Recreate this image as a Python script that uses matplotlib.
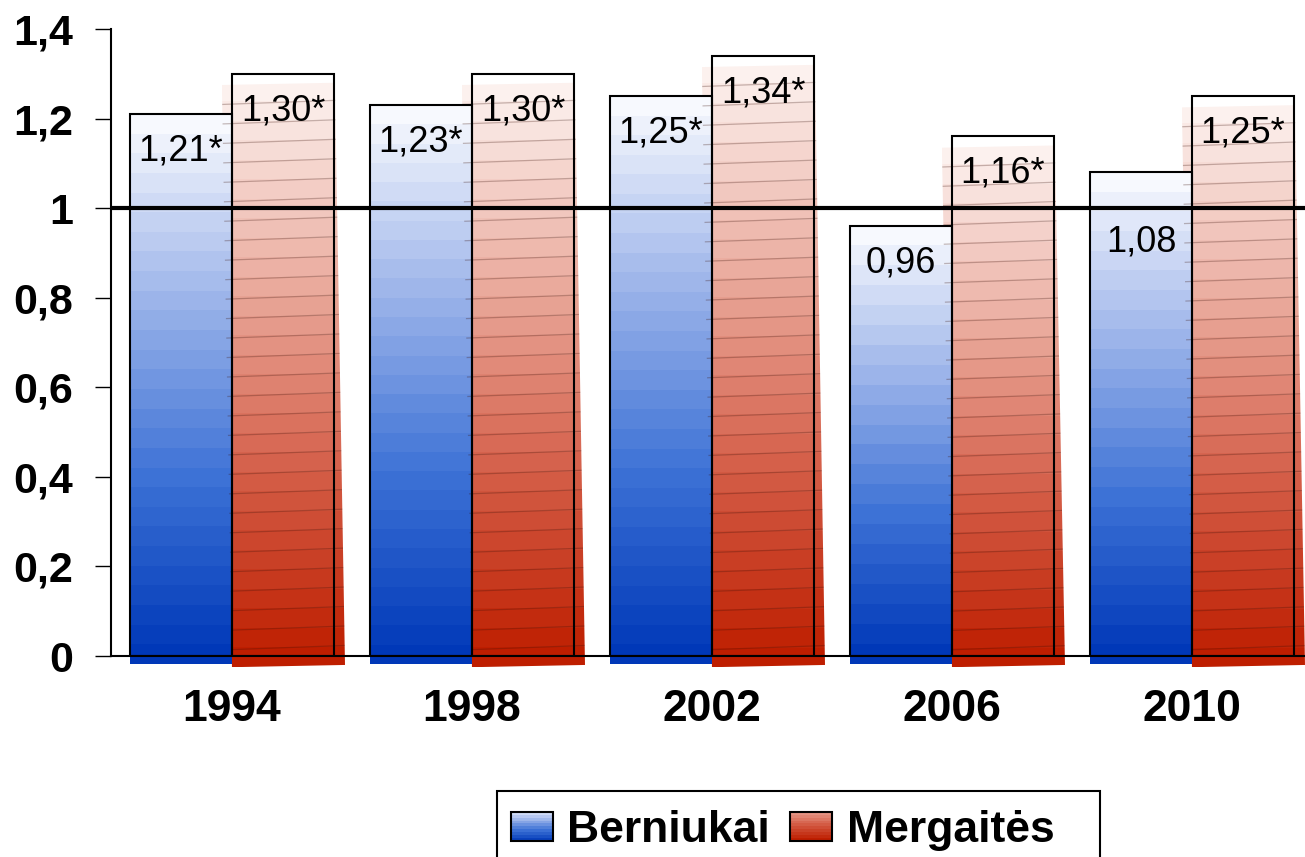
import numpy as np
import matplotlib
matplotlib.use("Agg")
import matplotlib.pyplot as plt
from matplotlib.colors import LinearSegmentedColormap
from matplotlib.patches import Polygon, Rectangle, Patch
from matplotlib.legend_handler import HandlerBase

plt.rcParams["font.family"] = ["Liberation Sans", "DejaVu Sans"]

# ── Data ──────────────────────────────────────────────────────────────────────
YEARS      = ["1994", "1998", "2002", "2006", "2010"]
BOYS       = [1.21, 1.23, 1.25, 0.96, 1.08]
GIRLS      = [1.30, 1.30, 1.34, 1.16, 1.25]
BOYS_TXT   = ["1,21*", "1,23*", "1,25*", "0,96", "1,08"]
GIRLS_TXT  = ["1,30*", "1,30*", "1,34*", "1,16*", "1,25*"]
YTICKS     = [0, 0.2, 0.4, 0.6, 0.8, 1.0, 1.2, 1.4]
YTICK_TXT  = ["0", "0,2", "0,4", "0,6", "0,8", "1", "1,2", "1,4"]
LEGEND_TXT = ["Berniukai", "Mergaitės"]

# ── Style ─────────────────────────────────────────────────────────────────────
BLUE = LinearSegmentedColormap.from_list(
    "blue", ["#0038B8", "#3D72D6", "#9CB4EA", "#F7F9FE"])
RED = LinearSegmentedColormap.from_list(
    "red", ["#BE1E00", "#D5604A", "#EBADA0", "#FCF1EE"])
BAR_W = 0.425
BAND  = 0.0435   # height of one colour band


def gradient_fill(ax, poly, bottom, top, cmap, streaks=False):
    """Banded vertical gradient clipped to a polygon (data coords)."""
    xs = [p[0] for p in poly]
    n = max(int(round((top - bottom) / BAND)), 2)
    img = cmap(np.linspace(1, 0, n))[:, None, :3]
    clip = Polygon(poly, closed=True, transform=ax.transData)
    im = ax.imshow(img, extent=[min(xs), max(xs), bottom, top],
                   aspect="auto", interpolation="nearest", zorder=1)
    im.set_clip_box(ax.figure.bbox)      # let the fill poke below the axis
    im.set_clip_path(clip)
    if streaks:
        tilt = 0.005
        for k in range(1, n):
            y = bottom + k * (top - bottom) / n
            ln, = ax.plot([min(xs), max(xs)], [y - tilt, y + tilt],
                          color="#3a1008", alpha=0.28, lw=0.9, zorder=1.5)
            ln.set_clip_box(ax.figure.bbox)
            ln.set_clip_path(clip)


class GradientHandler(HandlerBase):
    def __init__(self, cmap, lo, hi):
        super().__init__()
        self.cmap = cmap
        self.lo, self.hi = lo, hi

    def create_artists(self, legend, orig_handle, xdescent, ydescent,
                       width, height, fontsize, trans):
        x0, y0 = -xdescent, -ydescent
        n = 10
        arts = []
        for k in range(n):
            c = self.cmap(self.lo + (self.hi - self.lo) * k / (n - 1))
            arts.append(Rectangle((x0, y0 + height * k / n), width,
                                  height / n * 1.05, facecolor=c,
                                  edgecolor="none", transform=trans))
        arts.append(Rectangle((x0, y0), width, height, fill=False,
                              edgecolor="black", lw=1.5, transform=trans))
        return arts


fig = plt.figure(figsize=(13.05, 8.57), dpi=100)
ax = fig.add_axes([111 / 1305, 201 / 857, 1194 / 1305, 627 / 857])

x = np.arange(len(YEARS))

# red bars: slightly rotated fill, drawn first so blue sits on top
for xi, v in zip(x, GIRLS):
    l, r = xi, xi + BAR_W + 0.046
    poly = [(l, -0.025), (r, -0.02), (r - 0.042, v - 0.02), (l - 0.042, v - 0.025)]
    gradient_fill(ax, poly, -0.025, v - 0.02, RED, streaks=True)

for xi, v in zip(x, BOYS):
    l, r = xi - BAR_W, xi
    poly = [(l, -0.018), (r, -0.018), (r, v), (l, v)]
    gradient_fill(ax, poly, -0.018, v, BLUE)

ax.bar(x - BAR_W / 2, BOYS, width=BAR_W, fill=False,
       edgecolor="black", lw=1.5, zorder=4)
ax.bar(x + BAR_W / 2, GIRLS, width=BAR_W, fill=False,
       edgecolor="black", lw=1.5, zorder=4)

ax.axhline(1, color="black", lw=3, zorder=5)


def label_y(v):
    y = v - 0.082
    if abs(y - 1) < 0.05:
        y = 1 - 0.075
    return y


for xi, v, t in zip(x, BOYS, BOYS_TXT):
    ax.text(xi - BAR_W / 2, label_y(v), t, ha="center", va="center",
            fontsize=26, zorder=6)
for xi, v, t in zip(x, GIRLS, GIRLS_TXT):
    ax.text(xi + BAR_W / 2, label_y(v), t, ha="center", va="center",
            fontsize=26, zorder=6)

ax.set_xlim(-0.504, 4.471)
ax.set_ylim(0, 1.4)
ax.set_yticks(YTICKS)
ax.set_yticklabels(YTICK_TXT, fontsize=31, fontweight="bold")
ax.set_xticks(x)
ax.set_xticklabels(YEARS, fontsize=32, fontweight="bold")
ax.tick_params(axis="y", length=11.5, width=1, pad=16)
ax.tick_params(axis="x", length=0, pad=24)
for s in ["top", "right"]:
    ax.spines[s].set_visible(False)
for s in ["left", "bottom"]:
    ax.spines[s].set_linewidth(1.5)
    ax.spines[s].set_zorder(3)

# legend: entries without frame, box drawn separately (cut by figure edge)
h_boys = Patch(label=LEGEND_TXT[0])
h_girls = Patch(label=LEGEND_TXT[1])
leg = fig.legend(handles=[h_boys, h_girls], labels=LEGEND_TXT,
                 handler_map={h_boys: GradientHandler(BLUE, 0.05, 0.85),
                              h_girls: GradientHandler(RED, 0.0, 0.55)},
                 loc="upper left", bbox_to_anchor=(511 / 1305, 1 - 810 / 857),
                 ncol=2, frameon=False,
                 prop={"weight": "bold", "size": 32},
                 handlelength=0.95, handleheight=0.63, handletextpad=0.32,
                 columnspacing=0.45, borderpad=0, borderaxespad=0)
fig.patches.append(Rectangle((497 / 1305, -0.05), (1100 - 497) / 1305,
                             0.05 + (857 - 791) / 857, fill=False,
                             edgecolor="black", lw=1.5,
                             transform=fig.transFigure, figure=fig))

fig.savefig("out.png", dpi=100)
